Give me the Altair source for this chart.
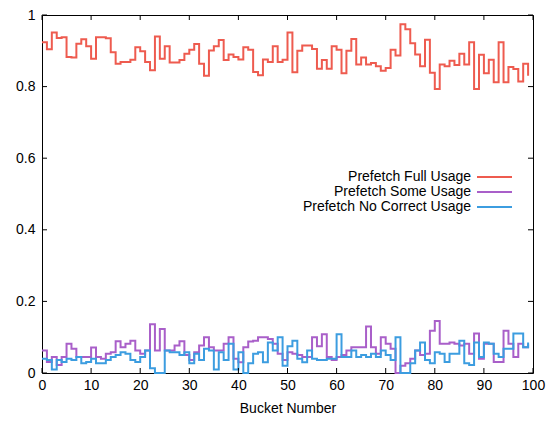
import altair as alt
import pandas as pd

buckets = list(range(100))

full_usage = [
    0.924, 0.904, 0.951, 0.936, 0.938, 0.883, 0.881, 0.920, 0.932, 0.913,
    0.878, 0.938, 0.938, 0.935, 0.896, 0.864, 0.869, 0.869, 0.875, 0.910,
    0.899, 0.869, 0.846, 0.940, 0.878, 0.913, 0.867, 0.867, 0.874, 0.892,
    0.903, 0.919, 0.864, 0.830, 0.901, 0.913, 0.930, 0.874, 0.890, 0.883,
    0.876, 0.910, 0.903, 0.841, 0.832, 0.876, 0.869, 0.913, 0.869, 0.875,
    0.951, 0.840, 0.900, 0.915, 0.915, 0.905, 0.850, 0.874, 0.850, 0.913,
    0.903, 0.837, 0.900, 0.933, 0.862, 0.881, 0.862, 0.866, 0.857, 0.844,
    0.852, 0.903, 0.887, 0.974, 0.960, 0.921, 0.890, 0.857, 0.931, 0.839,
    0.793, 0.862, 0.857, 0.872, 0.860, 0.892, 0.862, 0.924, 0.793, 0.889,
    0.837, 0.875, 0.812, 0.924, 0.812, 0.855, 0.849, 0.814, 0.864, 0.830,
]

some_usage = [
    0.063, 0.031, 0.045, 0.022, 0.045, 0.082, 0.068, 0.045, 0.045, 0.045,
    0.071, 0.045, 0.040, 0.054, 0.058, 0.089, 0.072, 0.082, 0.090, 0.063,
    0.054, 0.063, 0.136, 0.063, 0.123, 0.063, 0.063, 0.077, 0.089, 0.050,
    0.036, 0.058, 0.077, 0.100, 0.072, 0.063, 0.063, 0.082, 0.100, 0.040,
    0.030, 0.072, 0.088, 0.090, 0.100, 0.100, 0.095, 0.082, 0.054, 0.036,
    0.058, 0.054, 0.050, 0.045, 0.045, 0.100, 0.075, 0.108, 0.045, 0.036,
    0.045, 0.050, 0.063, 0.072, 0.072, 0.072, 0.130, 0.072, 0.054, 0.100,
    0.082, 0.068, 0.000, 0.020, 0.027, 0.040, 0.063, 0.050, 0.054, 0.118,
    0.145, 0.082, 0.082, 0.085, 0.082, 0.077, 0.082, 0.054, 0.110, 0.040,
    0.082, 0.082, 0.031, 0.031, 0.118, 0.082, 0.045, 0.082, 0.072, 0.080,
]

no_correct_usage = [
    0.040, 0.036, 0.010, 0.036, 0.031, 0.040, 0.036, 0.045, 0.027, 0.031,
    0.040, 0.027, 0.027, 0.036, 0.045, 0.050, 0.058, 0.054, 0.036, 0.031,
    0.045, 0.063, 0.013, 0.000, 0.000, 0.063, 0.058, 0.058, 0.050, 0.058,
    0.027, 0.054, 0.036, 0.068, 0.063, 0.010, 0.058, 0.036, 0.082, 0.010,
    0.058, 0.000, 0.027, 0.054, 0.058, 0.030, 0.085, 0.063, 0.100, 0.020,
    0.075, 0.090, 0.040, 0.030, 0.063, 0.040, 0.036, 0.036, 0.040, 0.040,
    0.108, 0.045, 0.045, 0.063, 0.045, 0.050, 0.045, 0.054, 0.045, 0.063,
    0.050, 0.036, 0.100, 0.000, 0.000, 0.027, 0.063, 0.085, 0.036, 0.027,
    0.058, 0.054, 0.031, 0.054, 0.054, 0.090, 0.027, 0.022, 0.085, 0.045,
    0.085, 0.082, 0.054, 0.045, 0.068, 0.068, 0.110, 0.110, 0.072, 0.085,
]

series_names = ["Prefetch Full Usage", "Prefetch Some Usage", "Prefetch No Correct Usage"]
series_colors = ["#ee5b4f", "#a95fc9", "#3c9de0"]
x_ticks = list(range(0, 101, 10))
y_ticks = [0, 0.2, 0.4, 0.6, 0.8, 1]

W, H = 491, 358
FONT = "Liberation Sans"
FS = 14

xscale = alt.Scale(domain=[0, 100], nice=False, zero=False)
yscale = alt.Scale(domain=[0, 1], nice=False)
xaxis = alt.Axis(values=x_ticks, format="d", labelPadding=5, titlePadding=9, labelFlush=False)
yaxis = alt.Axis(values=y_ticks, format="~g", labelPadding=7, labelFlush=False)


def xenc(field):
    return alt.X(field, scale=xscale, axis=xaxis, title="Bucket Number")


def yenc(field):
    return alt.Y(field, scale=yscale, axis=yaxis, title=None)


layers = []
for name, vals, col in zip(series_names, [full_usage, some_usage, no_correct_usage], series_colors):
    df = pd.DataFrame({"bucket": buckets, "value": vals})
    layers.append(
        alt.Chart(df).mark_line(interpolate="step-after", color=col, strokeWidth=2).encode(
            x=xenc("bucket:Q"), y=yenc("value:Q")
        )
    )

xt = pd.DataFrame({"tick": x_ticks})
yt = pd.DataFrame({"ytick": y_ticks})
TL = 5
layers.append(alt.Chart(xt).mark_rule(color="black", strokeWidth=1).encode(
    x=xenc("tick:Q"), y=alt.value(H), y2=alt.value(H - TL)))
layers.append(alt.Chart(xt).mark_rule(color="black", strokeWidth=1).encode(
    x=xenc("tick:Q"), y=alt.value(0), y2=alt.value(TL)))
layers.append(alt.Chart(yt).mark_rule(color="black", strokeWidth=1).encode(
    y=yenc("ytick:Q"), x=alt.value(0), x2=alt.value(TL)))
layers.append(alt.Chart(yt).mark_rule(color="black", strokeWidth=1).encode(
    y=yenc("ytick:Q"), x=alt.value(W), x2=alt.value(W - TL)))

# legend
leg_y = [162, 177, 192]
for name, col, yy in zip(series_names, series_colors, leg_y):
    ldf = pd.DataFrame({"label": [name]})
    layers.append(alt.Chart(ldf).mark_text(
        align="right", baseline="middle", font=FONT, fontSize=FS, color="black"
    ).encode(x=alt.value(429), y=alt.value(yy), text="label:N"))
    layers.append(alt.Chart(ldf).mark_rule(color=col, strokeWidth=2).encode(
        x=alt.value(435), x2=alt.value(470), y=alt.value(yy)))

chart = alt.layer(*layers).properties(
    width=W, height=H,
    autosize=alt.AutoSizeParams(type="none"),
    padding={"left": 34, "top": 7, "right": 14, "bottom": 48},
).configure_axis(
    labelFont=FONT, labelFontSize=FS, labelColor="black",
    titleFont=FONT, titleFontSize=FS, titleFontWeight="normal", titleColor="black",
    grid=False, ticks=False, domain=False,
).configure_view(stroke="black", strokeWidth=1)

chart.save("out.html", embed_options={"renderer": "svg", "actions": False})
